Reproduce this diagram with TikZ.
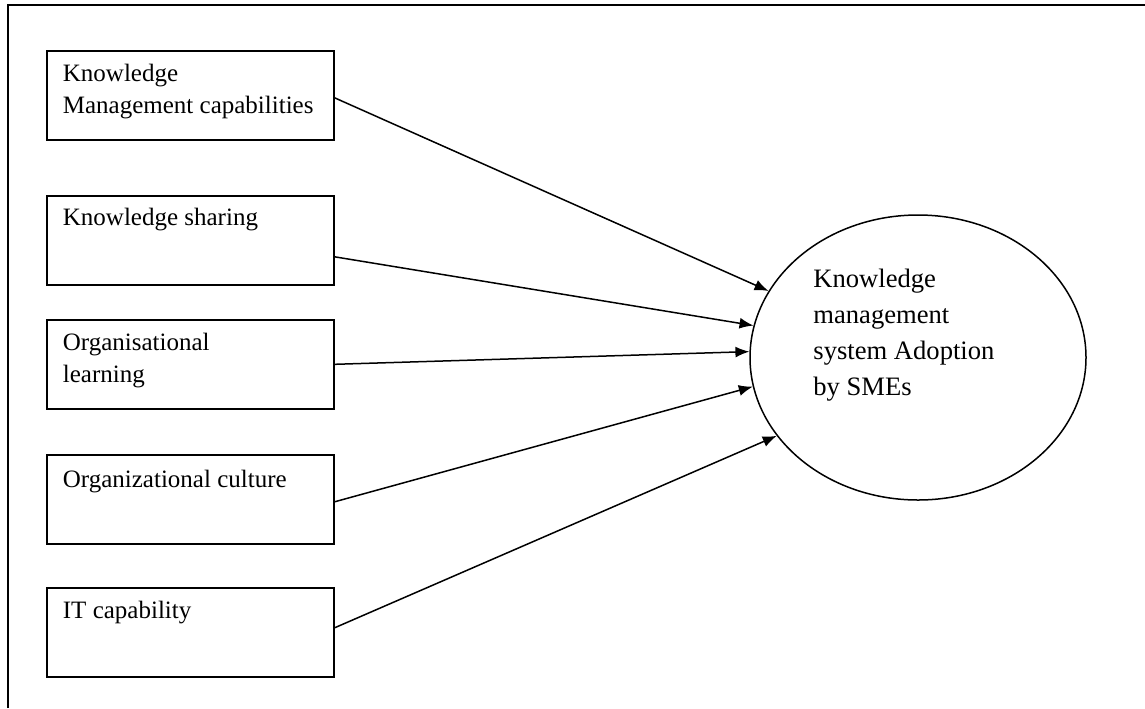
\documentclass[tikz,border=0pt]{standalone}
\usepackage{fontspec}
\setmainfont{Liberation Serif}
\usetikzlibrary{shapes.geometric,arrows.meta}

\begin{document}
\begin{tikzpicture}
[
x=0.5pt, y=-0.5pt,
factor/.style={draw, rectangle, anchor=north west, minimum width=143.5pt, minimum height=44.5pt, inner sep=0pt, line width=0.8pt},
factorlabel/.style={anchor=north west, align=left, inner sep=0pt, font=\fontsize{12.5}{16}\selectfont},
outcome/.style={draw, ellipse, minimum width=168pt, minimum height=142.5pt, inner sep=0pt, line width=0.75pt},
outcomelabel/.style={anchor=north west, align=left, inner sep=0pt, font=\fontsize{13.3}{18}\selectfont},
link/.style={-{Latex[length=7pt,width=5.5pt]}, line width=0.75pt}
]

\useasboundingbox (0,0) rectangle (1145,708);
\draw[line width=1pt] (8,708) -- (8,5) -- (1145,5);

% the five factors
\node (kmc) [factor] at (46,50) {};
\node (ks) [factor] at (46,195) {};
\node (ol) [factor] at (46,319) {};
\node (oc) [factor] at (46,454) {};
\node (itc) [factor] at (46,587) {};

\node (kmc-text) [factorlabel] at ([shift={(16.5,14)}]kmc.north west) {Knowledge\\Management capabilities};
\node (ks-text) [factorlabel] at ([shift={(16.5,13)}]ks.north west) {Knowledge sharing};
\node (ol-text) [factorlabel] at ([shift={(16.5,14)}]ol.north west) {Organisational\\learning};
\node (oc-text) [factorlabel] at ([shift={(16.5,16)}]oc.north west) {Organizational culture};
\node (itc-text) [factorlabel] at ([shift={(16.5,14)}]itc.north west) {IT capability};

% the adoption
\node (kmsa) [outcome] at (918,357.5) {};
\node (kmsa-text) [outcomelabel] at (813,269) {Knowledge\\management\\system Adoption\\by SMEs};

\draw[link] ([yshift=-1.25pt]kmc.east) -- (kmsa.156);
\draw[link] ([yshift=-8.25pt]ks.east) -- (kmsa.169);
\draw[link] (ol.east) -- (kmsa.178);
\draw[link] ([yshift=-1.25pt]oc.east) -- (kmsa.190);
\draw[link] ([yshift=2.25pt]itc.east) -- (kmsa.209);
\end{tikzpicture}
\end{document}
